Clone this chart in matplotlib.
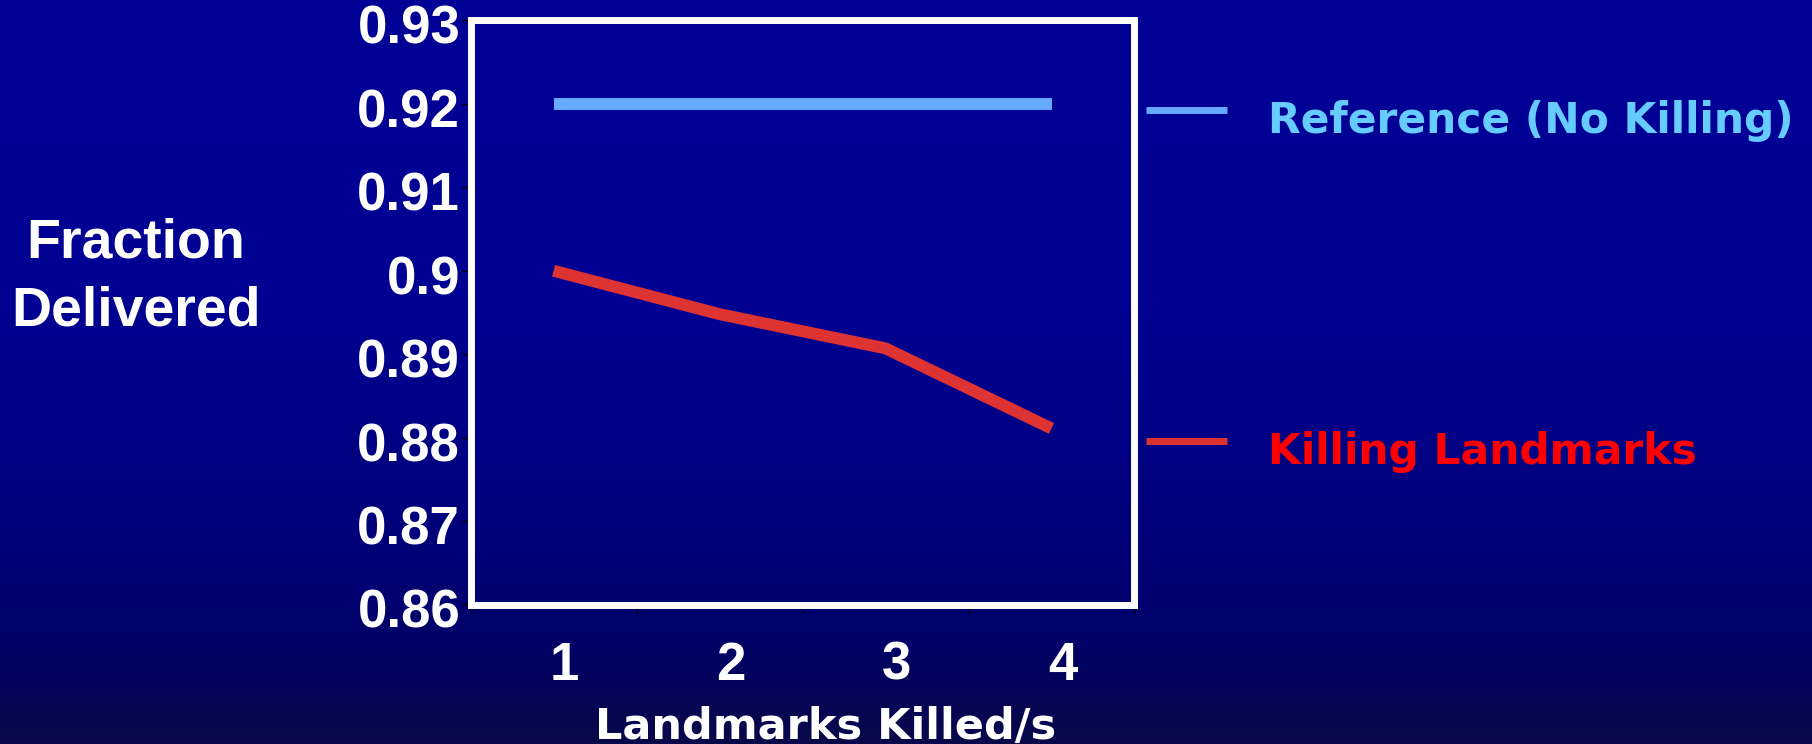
import numpy as np
import matplotlib
matplotlib.use('Agg')
import matplotlib.pyplot as plt
import matplotlib.transforms as mtransforms
from matplotlib.colors import LinearSegmentedColormap
from matplotlib.lines import Line2D

# data
x_labels = ['1', '2', '3', '4']
x_pos = [1, 2, 3, 4]
reference = [0.92, 0.92, 0.92, 0.92]
killing = [0.900, 0.8948, 0.8907, 0.8811]
y_ticks = [0.86, 0.87, 0.88, 0.89, 0.90, 0.91, 0.92, 0.93]
series_names = ['Reference (No Killing)', 'Killing Landmarks']

ref_color = '#66aaff'
kill_color = '#dd3333'
ref_text = '#66ccff'
kill_text = '#ff0000'

fig = plt.figure(figsize=(18.12, 7.44), dpi=100)

# slide-style background, dark blue fading darker towards the bottom
bg = fig.add_axes([0, 0, 1, 1], zorder=-1)
bg_cmap = LinearSegmentedColormap.from_list('slide', [
    (0.0, '#000096'), (0.4, '#000092'), (0.7, '#00007c'),
    (0.85, '#00006a'), (1.0, '#08084a')])
grad = np.linspace(0, 1, 256).reshape(-1, 1)
bg.imshow(grad, cmap=bg_cmap, aspect='auto', extent=[0, 1, 0, 1])
bg.set_axis_off()

ax = fig.add_axes([0.2597, 0.1875, 0.3664, 0.7850])
ax.set_facecolor('none')

ax.plot(x_pos, reference, color=ref_color, lw=8.6, solid_capstyle='butt', zorder=3)
ax.plot(x_pos, killing, color=kill_color, lw=8.6, solid_capstyle='butt', zorder=3)

ax.set_xlim(0.5, 4.5)
ax.set_ylim(0.86, 0.93)

for sp in ax.spines.values():
    sp.set_color('white')
    sp.set_linewidth(5)

tick_font = dict(family='Liberation Sans', weight='bold', size=38)
ax.set_yticks(y_ticks, labels=[f'{v:g}' for v in y_ticks])
ax.set_xticks(x_pos, labels=x_labels)
ax.set_xticks([0.5, 1.5, 2.5, 3.5, 4.5], minor=True)
ax.tick_params(axis='y', direction='out', length=6.5, width=1, color='black',
               pad=1, labelcolor='white')
ax.tick_params(axis='x', which='major', length=0, pad=26, labelcolor='white')
ax.tick_params(axis='x', which='minor', direction='out', length=5.8, width=1,
               color='black')
for lab in ax.get_xticklabels() + ax.get_yticklabels():
    lab.set_fontproperties(matplotlib.font_manager.FontProperties(**tick_font))

# category labels sit a little right of the category centre,
# value labels a little below their ticks
xshift = mtransforms.ScaledTranslation(11 / 100, 0, fig.dpi_scale_trans)
for lab in ax.get_xticklabels():
    lab.set_transform(lab.get_transform() + xshift)
yshift = mtransforms.ScaledTranslation(0, -4 / 100, fig.dpi_scale_trans)
for lab in ax.get_yticklabels():
    lab.set_transform(lab.get_transform() + yshift)

ax.set_xlabel('Landmarks Killed/s', family='DejaVu Sans', weight='bold',
              fontsize=31, color='white')
ax.xaxis.set_label_coords(0.5354, -0.173)

ax.set_ylabel('Fraction\nDelivered', family='Liberation Sans', weight='bold',
              fontsize=40, color='white', rotation=0, ha='center', va='center',
              linespacing=1.39)
ax.yaxis.set_label_coords(-0.5045, 0.560)

handles = [Line2D([0], [0], color=ref_color, lw=5, solid_capstyle='butt'),
           Line2D([0], [0], color=kill_color, lw=5, solid_capstyle='butt')]
leg = ax.legend(handles, series_names, loc='upper left',
                bbox_to_anchor=(1146 / 1812, 1 - 88 / 744),
                bbox_transform=fig.transFigure, frameon=False,
                prop=dict(family='DejaVu Sans', weight='bold', size=30.5),
                labelcolor=[ref_text, kill_text], handlelength=1.91,
                handleheight=1.9, handletextpad=0.97, labelspacing=6.33,
                borderpad=0, borderaxespad=0)

fig.savefig('out.png', dpi=100)
